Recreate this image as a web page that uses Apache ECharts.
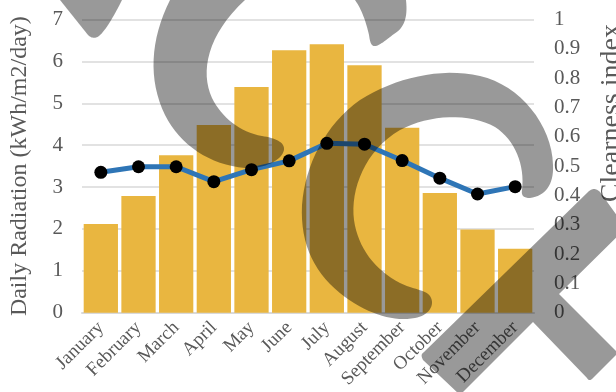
<!DOCTYPE html>
<html>
<head>
<meta charset="utf-8">
<script src="https://cdn.jsdelivr.net/npm/echarts@6/dist/echarts.min.js"></script>
<style>
  html, body { margin: 0; padding: 0; background: #ffffff; }
  #chart { width: 616px; height: 392px; }
</style>
</head>
<body>
<div id="chart"></div>
<script>
// Monthly solar resource: daily radiation (bars) and clearness index (line)
var months = ['January', 'February', 'March', 'April', 'May', 'June',
              'July', 'August', 'September', 'October', 'November', 'December'];
var dailyRadiation = [2.12, 2.79, 3.76, 4.48, 5.39, 6.27, 6.41, 5.91, 4.42, 2.86, 1.99, 1.53];
var clearnessIndex = [0.479, 0.498, 0.498, 0.447, 0.488, 0.518, 0.578, 0.575, 0.519, 0.459, 0.405, 0.430];
var radiationTicks = { min: 0, max: 7, step: 1 };
var clearnessTicks = { min: 0, max: 1, step: 0.1 };

var FONT = '"Liberation Serif", "Times New Roman", serif';
var TEXT = '#595959';
var SHADE = 'rgba(0,0,0,0.4)';

// Grey logo shapes laid over the plot (absolute M/L/C outlines)
var logoPaths = [
  'M60,0 L122,0 C114,16 106,30 99,36 C95,39 91,38 88,35 Z',
  'M355,0 L406,0 C408,18 404,28 394,34 C386,40 380,45 376,46 C371,47 370,42 369,35 C366,22 362,10 355,0 Z',
  'M170,0 C150,40 148,80 165,115 C180,145 210,165 245,168 C265,169 282,160 284,150 ' +
    'C285,142 275,138 262,136 C240,132 222,118 212,98 C200,72 207,35 245,0 Z',
  'M530,198 C545,196 554,185 553,165 C552,125 520,85 480,76 C440,67 395,78 360,100 ' +
    'C325,125 305,165 302,205 C300,245 315,275 345,297 C370,315 395,322 415,318 ' +
    'C428,316 436,305 430,296 C426,290 412,289 400,283 C375,270 358,248 354,220 ' +
    'C350,190 365,150 400,130 C430,114 470,113 495,127 C515,140 525,165 522,190 ' +
    'C521,196 524,198 530,198 Z',
  'M423,360 C421,356 421,354 424,352 L588,192 C592,188 596,188 600,192 L626,228 ' +
    'L559,294 L618,353 L592,379 C590,381 588,380 587,378 L533,322 L460,395 Z'
];

// Flatten an outline made of M/L/C commands into polygon points
function outlineToPoints(d) {
  var nums = d.match(/[MLCZ]|-?\d+(\.\d+)?/g);
  var pts = [], cur = [0, 0], i = 0, cmd = null;
  while (i < nums.length) {
    var t = nums[i];
    if (/[MLCZ]/.test(t)) { cmd = t; i++; if (cmd === 'Z') continue; }
    if (cmd === 'M' || cmd === 'L') {
      cur = [+nums[i], +nums[i + 1]]; pts.push(cur); i += 2;
    } else if (cmd === 'C') {
      var p0 = cur, p1 = [+nums[i], +nums[i + 1]], p2 = [+nums[i + 2], +nums[i + 3]], p3 = [+nums[i + 4], +nums[i + 5]];
      for (var k = 1; k <= 16; k++) {
        var s = k / 16, u = 1 - s;
        pts.push([
          u * u * u * p0[0] + 3 * u * u * s * p1[0] + 3 * u * s * s * p2[0] + s * s * s * p3[0],
          u * u * u * p0[1] + 3 * u * u * s * p1[1] + 3 * u * s * s * p2[1] + s * s * s * p3[1]
        ]);
      }
      cur = p3; i += 6;
    } else { i++; }
  }
  return pts;
}

var chart = echarts.init(document.getElementById('chart'), null, { renderer: 'canvas' });

chart.setOption({
  backgroundColor: '#ffffff',
  animation: false,
  textStyle: { fontFamily: FONT },
  grid: { left: 82, right: 82, top: 19.6, bottom: 79.3, containLabel: false, outerBoundsMode: 'none' },
  xAxis: {
    type: 'category',
    data: months,
    axisTick: { show: false },
    axisLine: { show: true, lineStyle: { color: '#d9d9d9', width: 2 } },
    axisLabel: {
      interval: 0, rotate: 45, margin: 12,
      fontFamily: FONT, fontSize: 19, color: TEXT
    }
  },
  yAxis: [
    {
      type: 'value',
      min: radiationTicks.min, max: radiationTicks.max, interval: radiationTicks.step,
      name: 'Daily Radiation (kWh/m2/day)',
      nameLocation: 'middle', nameGap: 50,
      nameTextStyle: { fontFamily: FONT, fontSize: 24, color: TEXT },
      axisLine: { show: false }, axisTick: { show: false },
      axisLabel: { margin: 19, fontFamily: FONT, fontSize: 21, color: TEXT },
      splitLine: { show: true, lineStyle: { color: '#d9d9d9', width: 1.5 } }
    },
    {
      type: 'value',
      min: clearnessTicks.min, max: clearnessTicks.max, interval: clearnessTicks.step,
      name: 'Clearness index',
      nameLocation: 'middle', nameGap: 64,
      nameTextStyle: { fontFamily: FONT, fontSize: 28, color: TEXT, padding: [0, 0, 0, 106] },
      axisLine: { show: false }, axisTick: { show: false },
      axisLabel: {
        margin: 20, fontFamily: FONT, fontSize: 21, color: TEXT,
        formatter: function (v) { return String(Math.round(v * 10) / 10); }
      },
      splitLine: { show: false }
    }
  ],
  series: [
    {
      type: 'bar',
      yAxisIndex: 0,
      data: dailyRadiation,
      barCategoryGap: '9%',
      itemStyle: { color: '#E9B640' }
    },
    {
      type: 'line',
      yAxisIndex: 1,
      data: clearnessIndex,
      symbol: 'circle',
      symbolSize: 13,
      lineStyle: { color: '#2E75B6', width: 5 },
      itemStyle: { color: '#000000', borderWidth: 0 },
      z: 5
    }
  ],
  graphic: logoPaths.map(function (d) {
    return {
      type: 'polygon',
      z: 100,
      silent: true,
      shape: { points: outlineToPoints(d) },
      style: { fill: SHADE }
    };
  })
});
</script>
</body>
</html>
